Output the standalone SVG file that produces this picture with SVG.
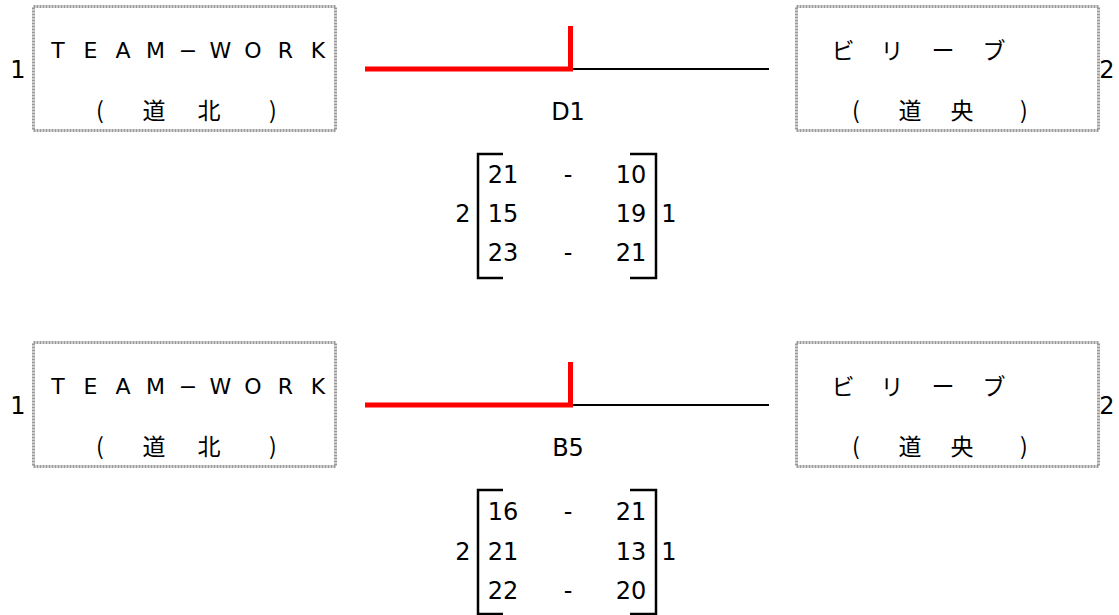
<svg xmlns="http://www.w3.org/2000/svg" width="1119" height="615" viewBox="0 0 1119 615">
<style>
.box{fill:#fff;stroke:#9a9a9a;stroke-width:3;stroke-dasharray:2 1}
.t{font-family:"DejaVu Sans","Noto Sans CJK JP",sans-serif;font-size:24px;fill:#000;text-anchor:middle}
.tw{font-family:"DejaVu Sans","Noto Sans CJK JP",sans-serif;font-size:22px;fill:#000;text-anchor:middle}
.j{font-family:"Noto Sans CJK JP","DejaVu Sans",sans-serif;font-size:23px;fill:#000;text-anchor:middle}
.red{stroke:#f00;stroke-width:5;fill:none}
.blk{stroke:#000;stroke-width:2;fill:none}
.br{stroke:#000;stroke-width:2.5;fill:none}
</style>
<g id="match1">
<g id="node-teamwork-1">
<rect class="box" x="33.5" y="6.5" width="302" height="124"/>
<text class="t" x="18" y="78">1</text>
<text class="tw" y="58"><tspan x="58">T</tspan><tspan x="90.5">E</tspan><tspan x="123">A</tspan><tspan x="155.5">M</tspan><tspan x="188">−</tspan><tspan x="220.5">W</tspan><tspan x="253">O</tspan><tspan x="285.5">R</tspan><tspan x="318">K</tspan></text>
<text class="j" y="119"><tspan x="100">(</tspan><tspan x="154">道</tspan><tspan x="209">北</tspan><tspan x="273">)</tspan></text>
</g>
<g id="node-billy-1">
<rect class="box" x="796.5" y="6.5" width="302" height="124"/>
<text class="t" x="1107" y="78">2</text>
<text class="j" y="59"><tspan x="843">ビ</tspan><tspan x="892">リ</tspan><tspan x="943">ー</tspan><tspan x="994">ブ</tspan></text>
<text class="j" y="119"><tspan x="856">(</tspan><tspan x="910">道</tspan><tspan x="962">央</tspan><tspan x="1024">)</tspan></text>
</g>
<g id="connectors-1">
<path class="blk" d="M573 69 H769"/>
<path class="red" d="M365 69 H570.5 V26"/>
</g>
<g id="score-1">
<text class="t" x="568" y="120">D1</text>
<path class="br" d="M503 154 H478 V278 H503"/>
<path class="br" d="M630 154 H656 V278 H630"/>
<text class="t" x="463" y="222">2</text>
<text class="t" x="669" y="222">1</text>
<text class="t" x="503" y="183">21</text><text class="t" x="568" y="183">-</text><text class="t" x="631" y="183">10</text>
<text class="t" x="503" y="222">15</text><text class="t" x="631" y="222">19</text>
<text class="t" x="503" y="261">23</text><text class="t" x="568" y="261">-</text><text class="t" x="631" y="261">21</text>
</g>
</g>
<g id="match2">
<g id="node-teamwork-2">
<rect class="box" x="33.5" y="342.5" width="302" height="124"/>
<text class="t" x="18" y="414">1</text>
<text class="tw" y="394"><tspan x="58">T</tspan><tspan x="90.5">E</tspan><tspan x="123">A</tspan><tspan x="155.5">M</tspan><tspan x="188">−</tspan><tspan x="220.5">W</tspan><tspan x="253">O</tspan><tspan x="285.5">R</tspan><tspan x="318">K</tspan></text>
<text class="j" y="455"><tspan x="100">(</tspan><tspan x="154">道</tspan><tspan x="209">北</tspan><tspan x="273">)</tspan></text>
</g>
<g id="node-billy-2">
<rect class="box" x="796.5" y="342.5" width="302" height="124"/>
<text class="t" x="1107" y="414">2</text>
<text class="j" y="395"><tspan x="843">ビ</tspan><tspan x="892">リ</tspan><tspan x="943">ー</tspan><tspan x="994">ブ</tspan></text>
<text class="j" y="455"><tspan x="856">(</tspan><tspan x="910">道</tspan><tspan x="962">央</tspan><tspan x="1024">)</tspan></text>
</g>
<g id="connectors-2">
<path class="blk" d="M573 405 H769"/>
<path class="red" d="M365 405 H570.5 V362"/>
</g>
<g id="score-2">
<text class="t" x="568" y="456">B5</text>
<path class="br" d="M503 490 H478 V614 H503"/>
<path class="br" d="M630 490 H656 V614 H630"/>
<text class="t" x="463" y="560">2</text>
<text class="t" x="669" y="560">1</text>
<text class="t" x="503" y="520">16</text><text class="t" x="568" y="520">-</text><text class="t" x="631" y="520">21</text>
<text class="t" x="503" y="560">21</text><text class="t" x="631" y="560">13</text>
<text class="t" x="503" y="599">22</text><text class="t" x="568" y="599">-</text><text class="t" x="631" y="599">20</text>
</g>
</g>
</svg>
